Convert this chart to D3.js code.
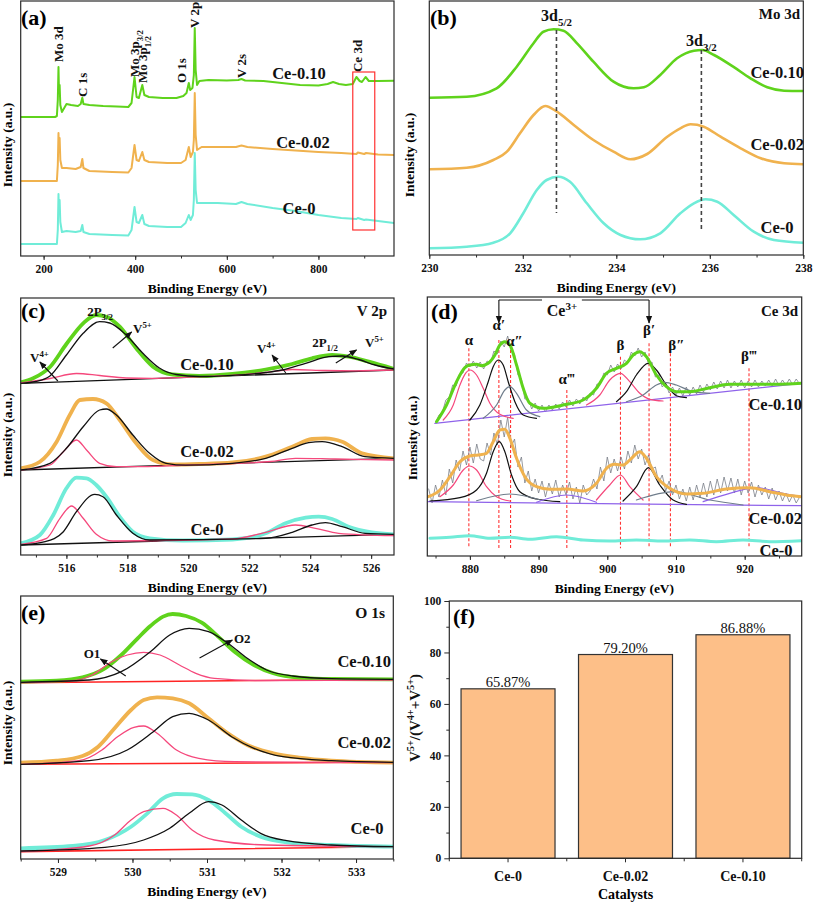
<!DOCTYPE html>
<html><head><meta charset="utf-8">
<script src="https://cdn.jsdelivr.net/npm/d3@7"></script>
<style>body{margin:0;background:#fff} svg text{font-family:"Liberation Serif","Times New Roman","DejaVu Serif",serif !important;}</style>
</head><body><script>
// ---------------- DATA ----------------
// (a) survey spectra [eV, intensity a.u.]
const surveyCe010=[[150,139],[225,139],[229,140],[231,156],[232.5,189],[233.5,166],[235,171],[236.5,151],[240,144],[250,152],[260,151],[275,150],[281,152],[284.5,158.3],[287,152],[300,151],[330,150],[360,149.5],[385,149],[392,153],[398.5,179],[403,159],[408,158],[415.5,171],[420,161],[430,159],[460,158],[490,158],[505,160],[512,163],[517,173],[520,166],[525,168],[528,181],[530,228],[532,186],[535,171],[540,175],[560,176],[600,175.5],[625,176],[632,177],[640,175.5],[680,175],[720,173],[760,171],[800,170.5],[820,172],[832,174],[845,172],[860,171],[875,172],[883,179],[890,175],[895,174],[903,179],[910,175],[930,175],[965,175.3]];
const surveyCe002=[[150,75],[229,75],[231,91],[232.5,123],[233.5,106],[235,118],[236.5,96],[240,88],[250,88],[270,87],[281,89],[284.5,97],[287,88],[300,85],[350,84],[385,83.5],[392,88],[398.5,111],[403,96],[408,95],[415.5,104],[420,96],[430,94],[470,93],[500,93],[510,96],[517,109],[521,99],[526,104],[528,116],[530,163],[532,121],[535,106],[545,109],[580,109],[620,109],[632,110.5],[645,109],[700,107],[750,105.5],[800,104],[850,103],[883,102],[886,103.5],[900,102],[904,103],[930,101.5],[965,101]];
const surveyCe0=[[150,12],[229,12],[231,26],[232.5,62],[233.5,44],[235,56],[236.5,34],[240,24],[250,25],[270,24],[281,25],[284.5,31],[287,24],[300,22],[350,21],[385,20.5],[392,26],[398.5,49],[403,34],[408,33],[415.5,41],[420,32],[430,30],[470,29],[500,29],[510,33],[517,41],[521,36],[526,41],[528,56],[530,103],[532,66],[535,53],[545,53],[580,53],[620,52],[632,54],[645,52],[700,48],[750,45],[800,41],[850,38],[883,37],[886,38],[900,36],[904,36.5],[930,35],[965,33]];
const surveyPeaks=[["Mo 3d",null,232,62],["C 1s",null,284.5,97],["Mo 3p","3/2",398,77],["Mo 3p","1/2",416,83],["O 1s",null,501,83],["V 2p",null,530,28],["V 2s",null,632,78],["Ce 3d",null,885,72]];

// (b) Mo 3d
const mo3dCe010=[[230,157.3],[230.8,158.3],[231.44,166.7],[231.87,188.3],[232.23,211.7],[232.44,223.3],[232.66,225.7],[232.87,224.3],[233.16,211.7],[233.51,193.3],[233.94,173.3],[234.37,166.7],[234.59,167.7],[234.94,180],[235.3,196.7],[235.66,204.3],[235.84,205],[236.09,200],[236.5,188.3],[236.87,176.7],[237.23,167.7],[237.59,164.3],[238,164]];
const mo3dCe002=[[230,85.7],[230.8,87.3],[231.37,95],[231.66,103.3],[231.94,121.7],[232.23,140],[232.48,149],[232.73,143.3],[233.09,130],[233.51,115],[233.94,103.3],[234.3,95.7],[234.66,101],[235.09,118.3],[235.37,126.7],[235.59,130.7],[235.87,128.3],[236.23,118.3],[236.66,106.7],[237.09,96.7],[237.59,91.7],[238,90.7]];
const mo3dCe0=[[230,6.7],[230.8,8.3],[231.37,12.3],[231.73,21.7],[232.01,41.7],[232.3,65],[232.51,75],[232.76,78.3],[233.01,73.3],[233.37,51.7],[233.73,31.7],[234.09,20],[234.51,15.7],[234.94,21.7],[235.37,41.7],[235.66,51.7],[235.91,55.7],[236.16,53.3],[236.51,40],[236.94,23.3],[237.37,15],[238,12.3]];
const mo3dRefLines=[[232.72,225,42],[235.82,205,23]];

// (c) V 2p
const v2pCe010Env=[[514.5,167.7],[514.91,171.7],[515.46,183],[516.0,206],[516.55,226.7],[516.98,235],[517.31,233.3],[517.75,223.3],[518.29,201.7],[518.84,183.3],[519.49,175.5],[520.36,174],[521.45,176],[522.54,180.5],[523.41,186],[524.06,191.7],[524.72,195],[525.26,193.3],[525.92,188.3],[526.75,181]];
const v2pCe010V5=[[514.5,166.7],[515,168.5],[515.46,174],[516.0,195],[516.55,216.7],[517.09,228.3],[517.42,227],[517.96,215],[518.5,197],[519.05,182],[519.6,175.5],[520.36,173.5],[521.45,174.7],[522.54,177.5],[523.08,180],[523.85,186.7],[524.61,193.3],[525.05,194],[525.59,190.5],[526.13,185],[526.75,181]];
const v2pCe010V4=[[514.5,167],[515.46,171.5],[516.33,176.5],[517.09,174.5],[517.96,172],[518.8,171.6],[520,172.8],[521.5,174.8],[522.54,177.5],[523.41,180.5],[524.5,179.5],[525.5,179.2],[526.75,180]];
const v2pCe010Base=[[514.5,166.7],[526.75,180]];
const v2pCe002Env=[[514.5,81.7],[515.13,88.3],[515.68,108.3],[516.11,135],[516.44,150],[516.87,151],[517.31,146.7],[517.75,130],[518.29,106.7],[518.84,90],[519.49,85.5],[520.36,86],[521.45,87.5],[522.54,93.3],[523.41,103.3],[524.06,111],[524.5,111.7],[525.05,108.3],[525.7,96.7],[526.75,91.7]];
const v2pCe002V5=[[514.5,80],[515.46,86.7],[516.0,101.7],[516.55,123.3],[517.09,140],[517.31,141],[517.64,135],[518.18,115],[518.73,96.7],[519.27,86.7],[519.92,84.8],[521.45,86.7],[522.54,91.7],[523.41,101.7],[523.95,107.3],[524.39,108.3],[525.05,103.3],[525.8,93.3],[526.75,91.7]];
const v2pCe002V4=[[514.5,80],[515.46,85],[515.9,98.3],[516.33,110],[516.66,100],[517.09,86.7],[517.64,83.3],[518.5,83.3],[520,85],[521.5,86.5],[522.7,88.5],[523.52,91.7],[524.82,91],[526.75,90]];
const v2pCe002Base=[[514.5,80],[526.75,91.7]];
const v2pCe0Env=[[514.5,6.7],[515.13,15],[515.57,35],[516.0,61.7],[516.33,72.3],[516.66,71.7],[516.98,65],[517.31,53.3],[517.75,33.3],[518.18,18.3],[518.73,11.7],[519.82,9.5],[521.45,10.5],[522.54,16.7],[523.19,26.7],[523.85,32.3],[524.28,33.3],[524.72,31],[525.26,23.3],[526.02,17.7],[526.75,15.7]];
const v2pCe0V5=[[514.5,5],[515.3,8.3],[515.9,18.3],[516.33,38.3],[516.93,55.7],[517.2,53.3],[517.64,35],[518.18,16.7],[518.73,10],[522.54,11.7],[523.41,17.7],[524.06,25],[524.5,27.3],[525.05,23.3],[525.8,16.7],[526.75,15.7]];
const v2pCe0V4=[[514.5,5.7],[515.35,11.7],[515.79,31.7],[516.17,44],[516.55,31.7],[516.98,15.7],[517.53,9],[521.45,11],[522.54,17.7],[523.52,25],[524.17,21.7],[524.93,16.7],[526.75,14.3]];
const v2pCe0Base=[[514.5,5],[526.75,15.7]];
const v2pArrows=[[517.52,202,518.14,218],[515.72,169,515.13,188],[523.2,177,522.75,195],[524.84,187,525.52,200]];

// (d) Ce 3d
const ce3dCe010Raw=[[875,132],[875.5,140],[876,143],[876.5,155],[877,158],[877.5,170],[878,169],[878.5,181],[879,182],[879.5,192],[880,188],[880.5,194],[881,187],[881.5,193],[882,186],[882.5,194],[883,192],[883.5,204],[884,201],[884.5,214],[885,208],[885.5,219],[886,205],[886.5,201],[887,180],[887.5,176],[888,156],[888.5,156],[889,146],[889.5,152],[890,144],[890.5,150],[891,143],[891.5,150],[892,145],[892.5,151],[893,146],[893.5,153],[894,148],[894.5,155],[895,149],[895.5,156],[896,151],[896.5,158],[897,154],[897.5,162],[898,160],[898.5,171],[899,171],[899.5,182],[900,180],[900.5,190],[901,183],[901.5,191],[902,186],[902.5,195],[903,192],[903.5,203],[904,199],[904.5,207],[905,198],[905.5,203],[906,191],[906.5,193],[907,178],[907.5,180],[908,168],[908.5,172],[909,162],[909.5,168],[910,160],[910.5,167],[911,159],[911.5,168],[912,160],[912.5,168],[913,161],[913.5,170],[914,163],[914.5,171],[915,165],[915.5,173],[916,166],[916.5,174],[917,167],[917.5,175],[918,167],[918.5,174],[919,168],[919.5,175],[920,167],[920.5,174],[921,168],[921.5,175],[922,168],[922.5,174],[923,169],[923.5,175],[924,169],[924.5,176],[925,169],[925.5,175],[926,170],[926.5,176],[927,170],[927.5,176],[928,171]];
const ce3dCe010Env=[[875.15,133.3],[876.6,150],[878.06,173.3],[879.27,187.3],[880,190],[880.97,190.7],[881.7,189.3],[882.67,191.7],[883.64,200],[884.36,210],[885.09,213.3],[885.82,210],[886.79,190],[887.76,166.7],[888.73,151.7],[890.67,146.7],[893.58,150],[896.48,155],[898.42,166.7],[899.88,181.7],[901.33,186.7],[902.79,191.7],[903.76,200],[904.73,203.3],[905.7,198.3],[907.15,180],[908.6,168.3],[910.06,163.3],[912,163.3],[914.9,167.3],[917.82,170.7],[920.73,170.7],[924.6,170.7],[928.24,171.7]];
const ce3dCe010Base=[[874.9,131.7],[928.24,171.7]];
const ce3dCe010Alpha=[[876.12,135],[877.58,150],[878.55,170],[879.27,180.7],[880,185],[880.97,180],[881.94,166.7],[882.91,151.7],[884.36,140.7],[886.3,136.7]];
const ce3dCe010Alpha1=[[880,135],[881.45,150],[882.67,173.3],[883.39,188.3],[884.12,195],[884.85,190],[885.58,173.3],[886.55,153.3],[887.76,140],[889.7,136.7]];
const ce3dCe010Alpha2=[[881.94,136.7],[883.88,150],[885.09,165],[885.82,168.3],[886.79,161.7],[888.24,145],[890.18,138.3]];
const ce3dCe010Beta=[[896.97,150],[898.91,160],[900.36,175],[901.92,181.7],[903.27,173.3],[904.73,161.7],[906.18,155.7],[908.12,154]];
const ce3dCe010Beta1=[[901.33,153.3],[902.79,163.3],[904.24,180],[905.94,191.7],[907.15,185],[908.6,170],[910.06,159.3],[911.52,157.3]];
const ce3dCe010Beta2=[[902.79,153.3],[905.21,160],[907.15,170],[908.36,172.7],[910.06,170],[912.48,163.3],[914.9,161.7]];
const ce3dCe002Raw=[[874,66],[874.5,52],[875,70],[875.5,58],[876,75],[876.5,60],[877,86],[877.5,72],[878,95],[878.5,84],[879,104],[879.5,90],[880,108],[880.5,92],[881,111],[881.5,96],[882,94],[882.5,112],[883,100],[883.5,122],[884,110],[884.5,135],[885,118],[885.5,138],[886,108],[886.5,116],[887,88],[887.5,98],[888,72],[888.5,84],[889,64],[889.5,76],[890,62],[890.5,74],[891,58],[891.5,72],[892,61],[892.5,75],[893,58],[893.5,70],[894,60],[894.5,73],[895,56],[895.5,68],[896,52],[896.5,70],[897,60],[897.5,64],[898,76],[898.5,66],[899,88],[899.5,74],[900,98],[900.5,82],[901,96],[901.5,84],[902,98],[902.5,86],[903,104],[903.5,92],[904,110],[904.5,96],[905,106],[905.5,90],[906,100],[906.5,86],[907,88],[907.5,72],[908,80],[908.5,64],[909,74],[909.5,60],[910,70],[910.5,56],[911,66],[911.5,54],[912,68],[912.5,55],[913,70],[913.5,57],[914,72],[914.5,58],[915,74],[915.5,60],[916,76],[916.5,62],[917,78],[917.5,64],[918,77],[918.5,62],[919,76],[919.5,60],[920,74],[920.5,62],[921,73],[921.5,58],[922,70],[922.5,60],[923,68],[923.5,56],[924,67],[924.5,55],[925,64],[925.5,54],[926,62],[926.5,53],[927,60],[927.5,52],[928,58]];
const ce3dCe002Env=[[873.94,58.3],[875.64,65],[877.09,78.3],[878.55,93.3],[880,99],[881.21,100],[882.42,101.7],[883.39,113.3],[884.36,125],[885.09,125.7],[885.82,116.7],[886.79,96.7],[888,78.3],[889.7,68.3],[891.64,65.7],[894.06,66],[896.48,64],[898.42,71.7],[899.88,86.7],[901.09,90.7],[902.3,90],[903.52,96.7],[904.73,103.3],[905.7,96.7],[907.15,78.3],[909.09,66.7],[911.52,61],[913.94,61.7],[917.33,66],[920.73,67.3],[923.64,63.3],[926.06,60],[928.24,58.3]];
const ce3dCe002Base=[[873.9,53.3],[928.24,49.3]];
const ce3dCe002Alpha=[[875.64,58.3],[877.58,70],[879.03,85],[879.9,89],[880.97,85],[882.42,68.3],[883.88,58.3],[885.82,54]];
const ce3dCe002Alpha1=[[874.18,54],[878.55,57.3],[880.97,65],[882.42,81.7],[883.39,103.3],[884.27,113.3],[885.09,103.3],[886.06,80],[887.27,63.3],[889.7,56],[893.09,53.3]];
const ce3dCe002Alpha2=[[880.97,54.3],[885.82,61],[890.67,54.3]];
const ce3dCe002Alpha3=[[889.7,52.7],[894.06,60],[898.42,52.7]];
const ce3dCe002Beta=[[898.42,55],[900.36,70],[901.92,80],[903.27,68.3],[905.21,55]];
const ce3dCe002Beta1=[[902.3,54],[904.24,68.3],[905.99,87.3],[907.64,70],[909.58,55],[911.52,50.7]];
const ce3dCe002Beta2=[[904.24,55],[909.82,63.3],[914.91,55],[919.76,50]];
const ce3dCe002Beta3=[[913.94,53.3],[917.82,61.7],[921.7,67.3],[925.58,61.7],[928.24,58.3]];
const ce3dCe0=[[874.18,16.7],[877.09,17.7],[880,19.3],[882.91,16.7],[885.82,17.7],[888.73,15.7],[892.6,18.3],[896.48,15],[900.36,14],[904.24,15],[908.12,14],[912,15],[915.88,13.3],[919.76,15],[923.64,13.3],[928.24,14.3]];
const ce3dMarks=[["α","",879.85,206.7,210],["α","′",884.22,215,225],["α","″",885.92,205,209],["α","‴",894.11,165,171],["β","",901.92,198.3,205],["β","′",906.08,211.7,220],["β","″",909.19,201.7,205],["β","‴",920.63,186.7,194]];

// (e) O 1s
const o1sCe010Env=[[528.5,171.6],[528.98,172.6],[529.33,176],[529.63,185],[529.85,198.3],[530.07,215],[530.24,227.3],[530.41,236.7],[530.54,239.3],[530.72,237.3],[530.93,230.6],[531.15,216.7],[531.37,201.6],[531.63,188.3],[531.89,180],[532.24,175.6],[532.67,174.3],[533.5,174]];
const o1sCe010O1=[[528.5,170.6],[529.2,172.6],[529.46,178.3],[529.72,191.6],[529.93,198.3],[530.15,201],[530.37,198.3],[530.63,188.3],[530.85,180],[531.1,175],[531.8,172.6],[533.5,173.3]];
const o1sCe010O2=[[528.5,171],[529.42,173.3],[529.85,181.6],[530.24,201.6],[530.5,218.3],[530.76,225],[531.02,221.6],[531.28,210],[531.54,195],[531.8,183.3],[532.15,177.3],[532.67,174.6],[533.5,174]];
const o1sCe010Base=[[528.5,170.6],[533.5,174]];
const o1sCe002Env=[[528.5,90.6],[528.98,92.6],[529.33,97.3],[529.54,106.6],[529.76,125],[529.98,143.3],[530.15,153.3],[530.33,156],[530.54,155],[530.76,150],[531.02,135],[531.28,120],[531.54,108.3],[531.89,100],[532.24,95.6],[532.67,92.6],[533.5,90.6]];
const o1sCe002O1=[[528.5,89],[529.28,92.6],[529.59,103.3],[529.8,116.6],[530.02,126],[530.15,127.3],[530.33,120],[530.59,103.3],[530.89,95],[531.37,91.6],[533.5,90.6]];
const o1sCe002O2=[[528.5,89],[529.42,92.6],[529.93,103.3],[530.28,121.6],[530.54,136.6],[530.76,140],[531.02,133.3],[531.33,116.6],[531.63,105],[532.02,96.6],[532.67,92.6],[533.5,91]];
const o1sCe002Base=[[528.5,89],[533.5,91]];
const o1sCe0Env=[[528.5,5],[529.2,7.3],[529.63,13.3],[529.98,26.6],[530.2,40],[530.41,55],[530.59,59.3],[530.8,59],[531.02,53.3],[531.24,40.6],[531.46,26.6],[531.72,16.6],[532.07,11],[532.67,8.3],[533.5,6.6]];
const o1sCe0O1=[[528.5,1.7],[529.42,7.3],[529.76,18.3],[529.98,33.3],[530.15,41.6],[530.41,45],[530.59,38.3],[530.8,23.3],[531.1,13.3],[531.8,8.3],[533.5,6.6]];
const o1sCe0O2=[[528.5,2.3],[529.63,6],[530.15,13.3],[530.5,25],[530.76,40],[531.02,51.6],[531.2,48.3],[531.46,33.3],[531.72,20],[532.07,12.6],[532.67,8.3],[533.5,6.6]];
const o1sCe0Base=[[528.5,1.7],[533.5,6.6]];

// (f) V5+ ratio
const catalysts=["Ce-0","Ce-0.02","Ce-0.10"];
const v5Ratio=[65.87,79.20,86.88];
const ratioTicks=[0,20,40,60,80,100];

// ---------------- DRAW ----------------
const FONT='"Liberation Serif","Times New Roman","DejaVu Serif",serif';
const C={green:'#5fd31c',orange:'#f0b24e',cyan:'#70ecd8',pink:'#f5487c',black:'#111',red:'#ff2424',purple:'#8f63ea',gray:'#6f7d8b',dash:'#ff3434',bar:'#fdbf88',frame:'#2a2a2a'};
const svg=d3.select('body').append('svg').attr('width',813).attr('height',904).attr('font-family',FONT).style('background','#fff');
const defs=svg.append('defs');
defs.append('marker').attr('id','arr').attr('viewBox','0 0 10 10').attr('refX',9).attr('refY',5)
 .attr('markerWidth',7).attr('markerHeight',7).attr('orient','auto-start-reverse')
 .append('path').attr('d','M0,1L10,5L0,9Z').attr('fill','#111');

function rich(g,x,y,parts,size,anchor,rot,weight){
  const t=g.append('text').attr('x',x).attr('y',y).attr('font-size',size).attr('font-family',FONT)
    .attr('font-weight',weight||'bold').attr('text-anchor',anchor||'start').attr('fill','#111');
  if(rot) t.attr('transform',`rotate(-90,${x},${y})`);
  let cur=0;
  parts.forEach(p=>{
    const s=typeof p==='string'?{t:p}:p;
    const target=s.s==='sub'?size*0.32:s.s==='sup'?-size*0.4:0;
    t.append('tspan').attr('dy',target-cur).attr('font-size',s.s?size*0.68:size).text(s.t);
    cur=target;
  });
  return t;
}

let clipN=0;
function panel(o){
  const x=d3.scaleLinear().domain(o.xd).range([o.l,o.r]);
  const y=d3.scaleLinear().domain(o.yd).range([o.b,o.t]);
  const g=svg.append('g');
  const id='clip'+(clipN++);
  defs.append('clipPath').attr('id',id).append('rect').attr('x',o.l).attr('y',o.t).attr('width',o.r-o.l).attr('height',o.b-o.t);
  const plot=g.append('g').attr('clip-path',`url(#${id})`);
  const ax=g.append('g').attr('transform',`translate(0,${o.b})`);
  ax.append('g').call(d3.axisBottom(x).tickValues(o.minor).tickSize(2.5).tickFormat(''));
  ax.append('g').call(d3.axisBottom(x).tickValues(o.major).tickSize(4).tickPadding(5).tickFormat(d3.format('d')));
  ax.selectAll('g').attr('font-family',FONT);
  ax.selectAll('.domain').remove();
  ax.selectAll('line').attr('stroke',C.frame);
  ax.selectAll('text').attr('font-size',11.5).attr('font-weight','bold').attr('fill','#111');
  g.append('rect').attr('x',o.l).attr('y',o.t).attr('width',o.r-o.l).attr('height',o.b-o.t)
    .attr('fill','none').attr('stroke',C.frame).attr('stroke-width',1.2);
  g.append('text').attr('x',o.lx).attr('y',o.ly).attr('font-size',22).attr('font-weight','bold').text(o.letter);
  g.append('text').attr('x',(o.l+o.r)/2).attr('y',o.b+37).attr('text-anchor','middle')
    .attr('font-size',13.5).attr('font-weight','bold').text('Binding Energy (eV)');
  g.append('text').attr('x',o.yx).attr('y',o.yy).attr('text-anchor','middle').attr('font-size',13.5)
    .attr('font-weight','bold').attr('transform',`rotate(-90,${o.yx},${o.yy})`).text('Intensity (a.u.)');
  return {x,y,plot,g};
}
function line(p,data,color,w,curve){
  p.plot.append('path').datum(data)
   .attr('d',d3.line().x(d=>p.x(d[0])).y(d=>p.y(d[1])).curve(curve||d3.curveMonotoneX))
   .attr('fill','none').attr('stroke',color).attr('stroke-width',w).attr('stroke-linejoin','round').attr('stroke-linecap','round');
}
function label(p,t,x,y,anchor,size){
  p.g.append('text').attr('x',x).attr('y',y).attr('text-anchor',anchor||'middle')
   .attr('font-size',size||16.5).attr('font-weight','bold').attr('fill','#111').text(t);
}
const rng=(a,b,s)=>d3.range(a,b+s/2,s);

// ---- (a)
const pa=panel({l:20.7,r:394,t:1,b:256,xd:[150,965],yd:[0,255],major:[200,400,600,800],minor:rng(200,900,100),
  letter:'(a)',lx:21,ly:25,yx:12,yy:145});
line(pa,surveyCe010,C.green,2,d3.curveLinear);
line(pa,surveyCe002,C.orange,2,d3.curveLinear);
line(pa,surveyCe0,C.cyan,2,d3.curveLinear);
surveyPeaks.forEach(([t,sub,e,yb])=>{
  const parts=sub?[t,{t:sub,s:'sub'}]:[t];
  rich(pa.g,pa.x(e)+4.5,yb,parts,13,'start',true);
});
pa.plot.append('rect').attr('x',pa.x(875)).attr('y',pa.y(184)).attr('width',pa.x(923)-pa.x(875))
  .attr('height',pa.y(26)-pa.y(184)).attr('fill','none').attr('stroke','#ff3030').attr('stroke-width',1.2);
label(pa,'Ce-0.10',299,79);label(pa,'Ce-0.02',303,148);label(pa,'Ce-0',299,214);

// ---- (b)
const pb=panel({l:429.3,r:803.3,t:1,b:255,xd:[230,238],yd:[0,254],major:rng(230,238,2),minor:rng(230,238,1),
  letter:'(b)',lx:430,ly:25,yx:414,yy:155});
line(pb,mo3dCe010,C.green,2.6);line(pb,mo3dCe002,C.orange,2.6);line(pb,mo3dCe0,C.cyan,2.6);
mo3dRefLines.forEach(([e,t,b])=>pb.plot.append('line').attr('x1',pb.x(e)).attr('x2',pb.x(e)).attr('y1',pb.y(t)).attr('y2',pb.y(b))
  .attr('stroke','#444').attr('stroke-width',1.6).attr('stroke-dasharray','4,3'));
rich(pb.g,pb.x(232.72),21,['3d',{t:'5/2',s:'sub'}],16,'middle');
rich(pb.g,pb.x(235.82),46,['3d',{t:'3/2',s:'sub'}],16,'middle');
label(pb,'Mo 3d',800,19,'end',15);
label(pb,'Ce-0.10',804,78,'end');label(pb,'Ce-0.02',804,150,'end');label(pb,'Ce-0',777,233);

// ---- (c)
const pc=panel({l:20.7,r:394,t:298,b:555,xd:[514.5,526.75],yd:[-5,252],major:rng(516,526,2),minor:rng(515,526,1),
  letter:'(c)',lx:21,ly:318,yx:12,yy:435});
[[v2pCe010Env,v2pCe010V5,v2pCe010V4,v2pCe010Base,C.green],[v2pCe002Env,v2pCe002V5,v2pCe002V4,v2pCe002Base,C.orange],[v2pCe0Env,v2pCe0V5,v2pCe0V4,v2pCe0Base,C.cyan]]
 .forEach(([env,v5,v4,base,col])=>{
   line(pc,base,'#111',1.3,d3.curveLinear);
   line(pc,env,col,3.8);
   line(pc,v4,C.pink,1.3);
   line(pc,v5,'#111',1.3);
 });
v2pArrows.forEach(([x1,y1,x2,y2])=>pc.g.append('line').attr('x1',pc.x(x1)).attr('y1',pc.y(y1)).attr('x2',pc.x(x2)).attr('y2',pc.y(y2))
  .attr('stroke','#111').attr('stroke-width',1.1).attr('marker-end','url(#arr)'));
label(pc,'V 2p',387,316,'end',15);
rich(pc.g,100,316,['2P',{t:'3/2',s:'sub'}],13,'middle');
rich(pc.g,133,333,['V',{t:'5+',s:'sup'}],13,'start');
rich(pc.g,30,362,['V',{t:'4+',s:'sup'}],13,'start');
rich(pc.g,257,353,['V',{t:'4+',s:'sup'}],13,'start');
rich(pc.g,325,347,['2P',{t:'1/2',s:'sub'}],13,'middle');
rich(pc.g,365,347,['V',{t:'5+',s:'sup'}],13,'start');
label(pc,'Ce-0.10',207,370);label(pc,'Ce-0.02',207,457);label(pc,'Ce-0',207,535);

// ---- (d)
const pd=panel({l:427.3,r:801.7,t:297,b:556,xd:[873.8,928.3],yd:[-1,258],major:rng(880,920,10),minor:rng(875,925,5),
  letter:'(d)',lx:431,ly:319,yx:417,yy:438});
ce3dMarks.forEach(([g,pr,e,top])=>pd.plot.append('line').attr('x1',pd.x(e)).attr('x2',pd.x(e)).attr('y1',pd.y(top)).attr('y2',pd.y(6.7))
  .attr('stroke',C.dash).attr('stroke-width',1.1).attr('stroke-dasharray','3,2'));
line(pd,ce3dCe010Raw,'#7a7f88',0.8,d3.curveLinear);
line(pd,ce3dCe002Raw,'#7a7f88',0.8,d3.curveLinear);
line(pd,ce3dCe010Base,C.purple,1.3,d3.curveLinear);
line(pd,ce3dCe002Base,C.purple,1.3,d3.curveLinear);
[[ce3dCe010Alpha,C.pink],[ce3dCe010Alpha1,'#111'],[ce3dCe010Alpha2,C.gray],[ce3dCe010Beta,C.pink],[ce3dCe010Beta1,'#111'],[ce3dCe010Beta2,C.gray],
 [ce3dCe002Alpha,C.pink],[ce3dCe002Alpha1,'#111'],[ce3dCe002Alpha2,C.gray],[ce3dCe002Alpha3,C.purple],[ce3dCe002Beta,C.pink],[ce3dCe002Beta1,'#111'],[ce3dCe002Beta2,C.gray],[ce3dCe002Beta3,C.purple]]
 .forEach(([d,c])=>line(pd,d,c,1.2));
line(pd,ce3dCe010Env,C.green,3);
line(pd,ce3dCe002Env,C.orange,3);
line(pd,ce3dCe0,C.cyan,3);
ce3dMarks.forEach(([g,pr,e,top,lv])=>{
  const dx=(pr==='″'&&g==='α')?4:(pr==='″'?6:0);
  label(pd,g+pr,pd.x(e)+dx,pd.y(lv),'middle',15);
});
// Ce3+ bracket
const bx1=pd.x(884.22),bx2=pd.x(906.08),by=pd.y(255),ay=pd.y(232);
pd.g.append('path').attr('d',`M${bx1},${by}H${pd.x(890.5)}M${pd.x(896.3)},${by}H${bx2}`)
  .attr('fill','none').attr('stroke','#111').attr('stroke-width',1.1);
pd.g.append('line').attr('x1',bx1).attr('x2',bx1).attr('y1',by).attr('y2',ay).attr('stroke','#111').attr('stroke-width',1.1).attr('marker-end','url(#arr)');
pd.g.append('line').attr('x1',bx2).attr('x2',bx2).attr('y1',by).attr('y2',ay).attr('stroke','#111').attr('stroke-width',1.1).attr('marker-end','url(#arr)');
rich(pd.g,pd.x(893.4),316,['Ce',{t:'3+',s:'sup'}],16,'middle');
label(pd,'Ce 3d',798,316,'end',15);
label(pd,'Ce-0.10',802,410,'end');label(pd,'Ce-0.02',802,524,'end');label(pd,'Ce-0',776,556);

// ---- (e)
const pe=panel({l:20.7,r:393.3,t:596,b:859,xd:[528.5,533.5],yd:[-5.7,257.3],major:rng(529,533,1),minor:rng(528.5,533.5,0.5),
  letter:'(e)',lx:21,ly:620,yx:12,yy:723});
[[o1sCe010Env,o1sCe010O1,o1sCe010O2,o1sCe010Base,C.green],[o1sCe002Env,o1sCe002O1,o1sCe002O2,o1sCe002Base,C.orange],[o1sCe0Env,o1sCe0O1,o1sCe0O2,o1sCe0Base,C.cyan]]
 .forEach(([env,o1,o2,base,col])=>{
   line(pe,base,C.red,1.6,d3.curveLinear);
   line(pe,env,col,3.8);
   line(pe,o1,C.pink,1.3);
   line(pe,o2,'#111',1.3);
 });
pe.g.append('line').attr('x1',pe.x(529.91)).attr('y1',pe.y(177.3)).attr('x2',pe.x(529.57)).attr('y2',pe.y(194.3)).attr('stroke','#111').attr('stroke-width',1.1).attr('marker-end','url(#arr)');
pe.g.append('line').attr('x1',pe.x(530.9)).attr('y1',pe.y(195.3)).attr('x2',pe.x(531.34)).attr('y2',pe.y(213.3)).attr('stroke','#111').attr('stroke-width',1.1).attr('marker-end','url(#arr)');
label(pe,'O 1s',385,618,'end',15.5);
label(pe,'O1',92,658,'middle',13);label(pe,'O2',234,643,'start',13);
label(pe,'Ce-0.10',391,667,'end');label(pe,'Ce-0.02',391,748,'end');label(pe,'Ce-0',367,834);

// ---- (f)
{
  const l=449.3,r=801.7,t=601,b=858.3;
  const x=d3.scaleBand().domain(catalysts).range([l,r]).paddingInner(0.2).paddingOuter(0.1);
  const y=d3.scaleLinear().domain([0,100]).range([b,t]);
  const g=svg.append('g');
  g.selectAll('rect.bar').data(v5Ratio).join('rect').attr('class','bar')
    .attr('x',(d,i)=>x(catalysts[i])).attr('width',x.bandwidth()).attr('y',d=>y(d)).attr('height',d=>b-y(d))
    .attr('fill',C.bar).attr('stroke','#333').attr('stroke-width',1.2);
  g.selectAll('text.val').data(v5Ratio).join('text').attr('class','val')
    .attr('x',(d,i)=>x(catalysts[i])+x.bandwidth()/2).attr('y',d=>y(d)-2).attr('text-anchor','middle')
    .attr('font-size',14.5).attr('fill','#111').text(d=>d.toFixed(2)+'%');
  const ay=g.append('g').attr('transform',`translate(${l},0)`);
  ay.append('g').call(d3.axisLeft(y).tickValues(rng(10,90,20)).tickSize(3).tickFormat(''));
  ay.append('g').call(d3.axisLeft(y).tickValues(ratioTicks).tickSize(5).tickPadding(3));
  const ax=g.append('g').attr('transform',`translate(0,${b})`);
  const mids=[l,(x('Ce-0')+x.bandwidth()+x('Ce-0.02'))/2,(x('Ce-0.02')+x.bandwidth()+x('Ce-0.10'))/2,r];
  ax.selectAll('line.mn').data(mids).join('line').attr('x1',d=>d).attr('x2',d=>d).attr('y1',0).attr('y2',3).attr('stroke',C.frame);
  ax.call(d3.axisBottom(x).tickSize(4).tickPadding(9));
  g.selectAll('g').attr('font-family',FONT);
  g.selectAll('.domain').remove();
  g.selectAll('.tick line').attr('stroke',C.frame);
  ay.selectAll('text').attr('font-size',11.5).attr('font-weight','bold').attr('fill','#111');
  ax.selectAll('text').attr('font-size',14).attr('font-weight','bold').attr('fill','#111');
  g.append('rect').attr('x',l).attr('y',t).attr('width',r-l).attr('height',b-t).attr('fill','none').attr('stroke',C.frame).attr('stroke-width',1.2);
  g.append('text').attr('x',453).attr('y',624).attr('font-size',22).attr('font-weight','bold').text('(f)');
  g.append('text').attr('x',(l+r)/2).attr('y',899).attr('text-anchor','middle').attr('font-size',14).attr('font-weight','bold').text('Catalysts');
  rich(g,420,718,['V',{t:'5+',s:'sup'},'/(V',{t:'4+',s:'sup'},'+V',{t:'5+',s:'sup'},')'],15,'middle',true);
}
</script></body></html>
